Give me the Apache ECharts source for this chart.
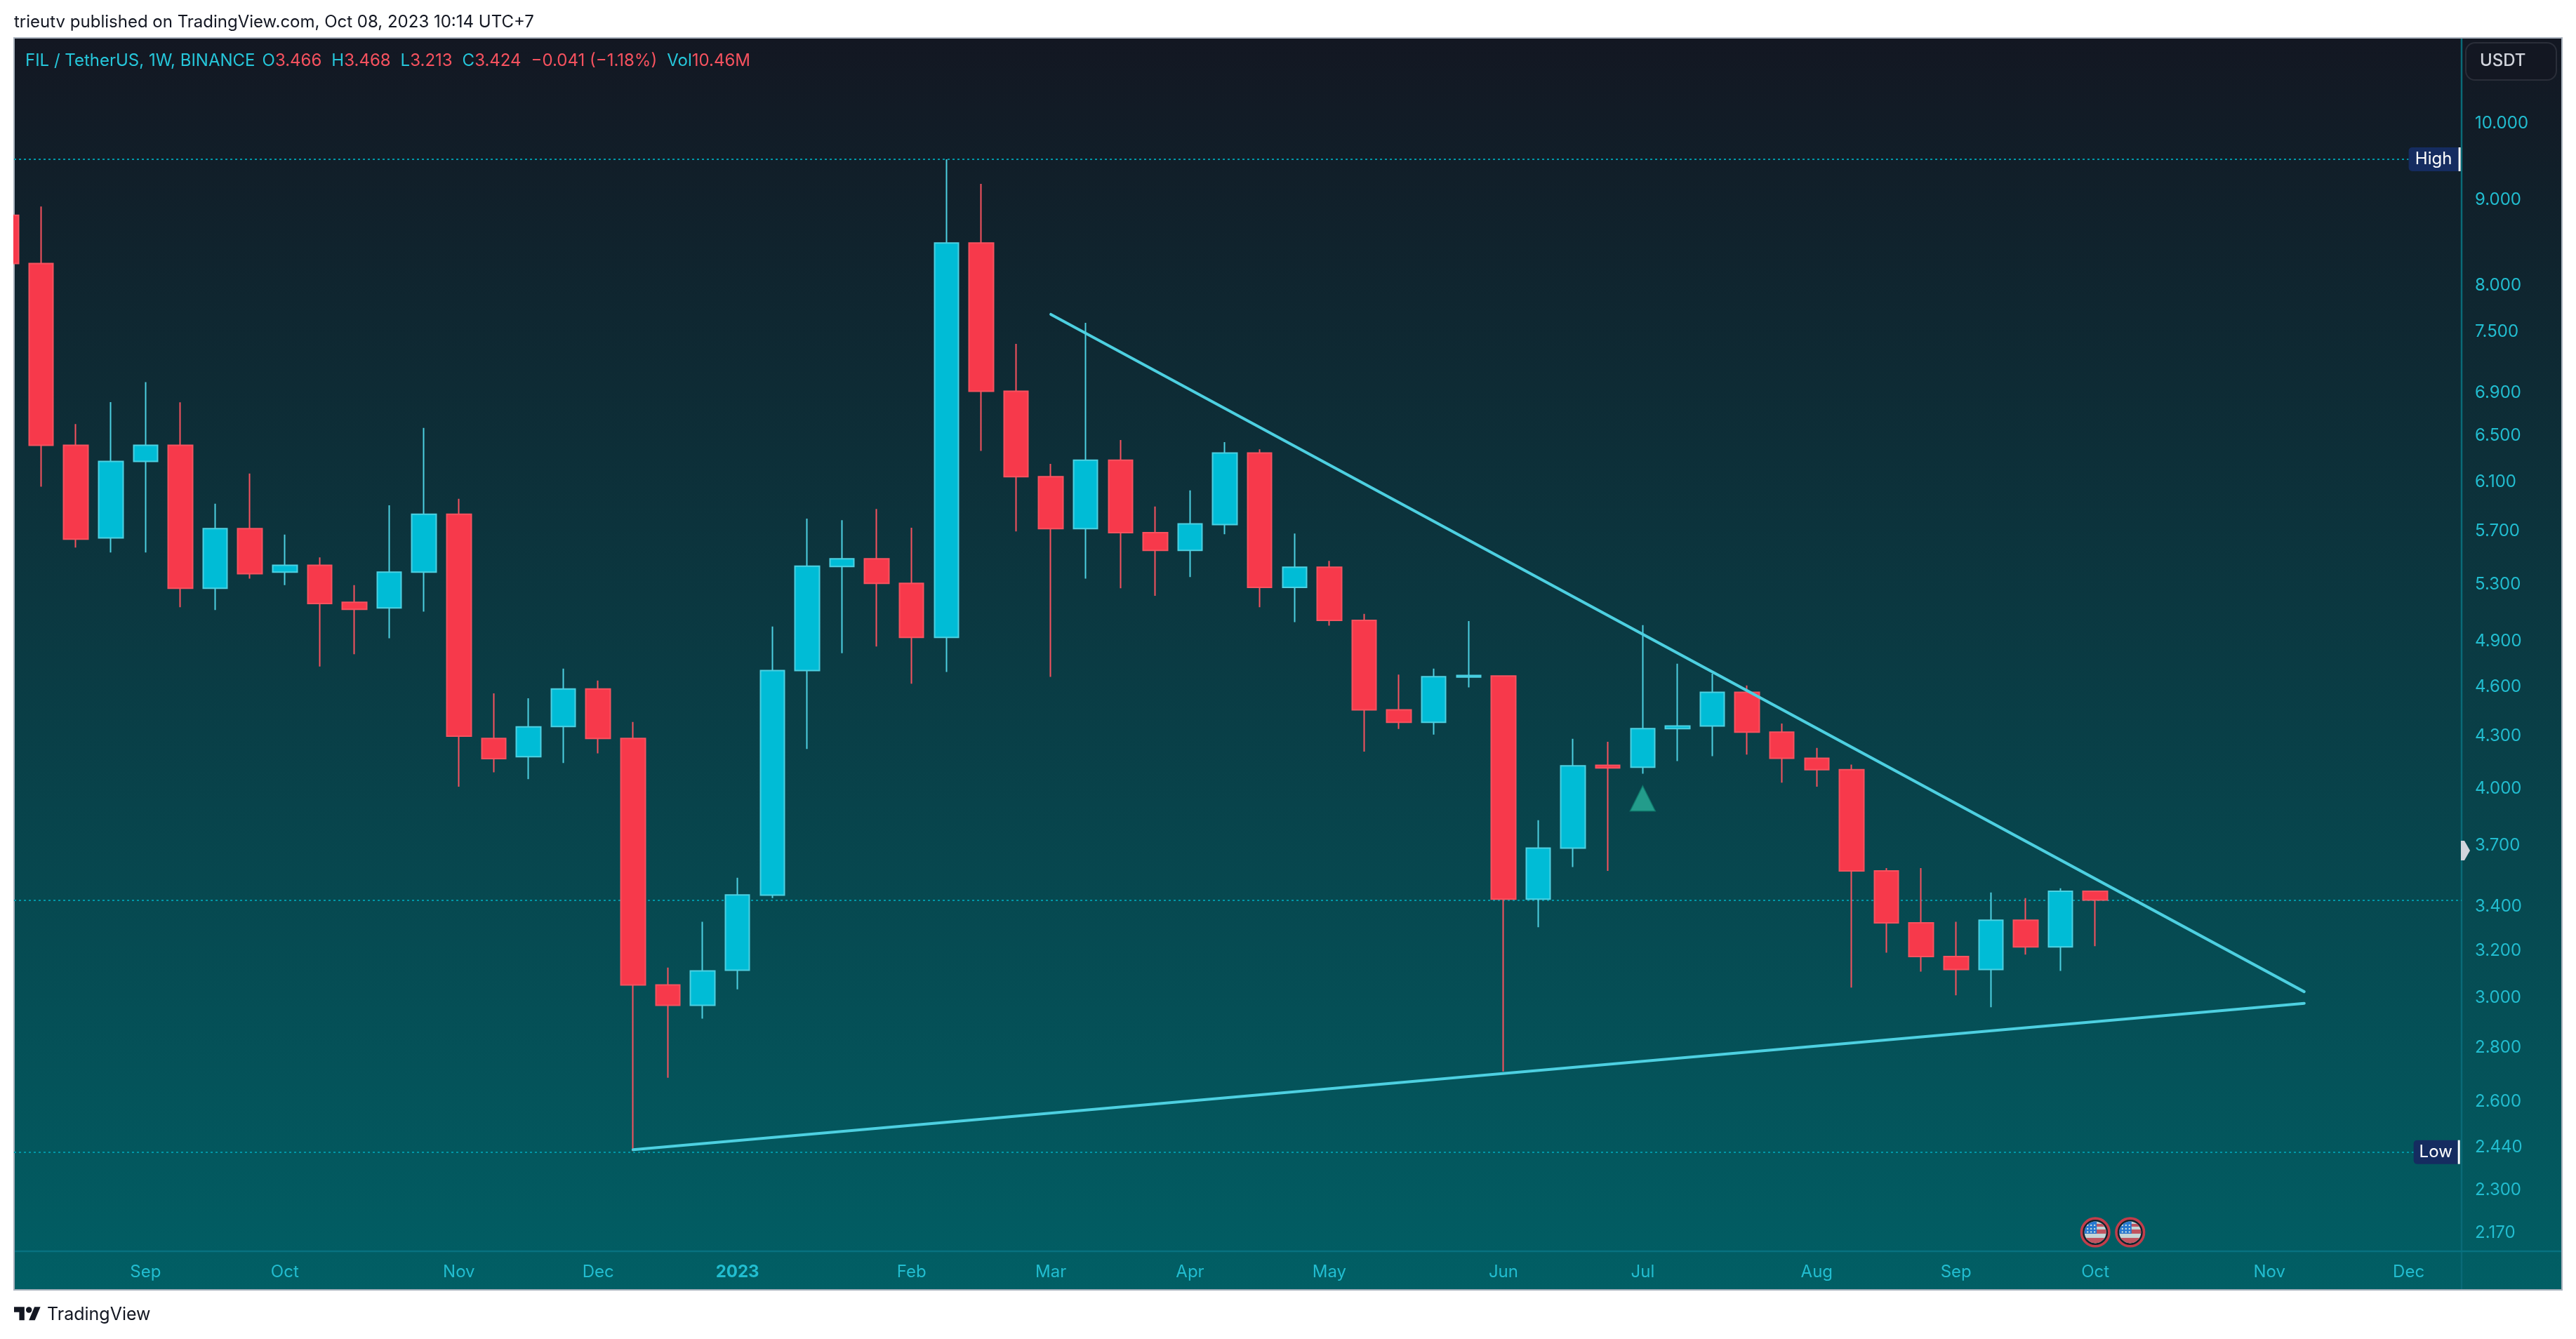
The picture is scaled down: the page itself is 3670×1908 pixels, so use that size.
<!DOCTYPE html>
<html>
<head>
<meta charset="utf-8">
<style>html,body{margin:0;padding:0;background:#fff}#c{width:3670px;height:1908px}</style>
<script src="https://cdn.jsdelivr.net/npm/echarts@6/dist/echarts.min.js"></script>
</head>
<body>
<div id="c"></div>
<script>
// Weekly bars, Monday open date
const weeks = [
'2022-08-08','2022-08-15','2022-08-22','2022-08-29','2022-09-05','2022-09-12','2022-09-19','2022-09-26','2022-10-03','2022-10-10',
'2022-10-17','2022-10-24','2022-10-31','2022-11-07','2022-11-14','2022-11-21','2022-11-28','2022-12-05','2022-12-12','2022-12-19',
'2022-12-26','2023-01-02','2023-01-09','2023-01-16','2023-01-23','2023-01-30','2023-02-06','2023-02-13','2023-02-20','2023-02-27',
'2023-03-06','2023-03-13','2023-03-20','2023-03-27','2023-04-03','2023-04-10','2023-04-17','2023-04-24','2023-05-01','2023-05-08',
'2023-05-15','2023-05-22','2023-05-29','2023-06-05','2023-06-12','2023-06-19','2023-06-26','2023-07-03','2023-07-10','2023-07-17',
'2023-07-24','2023-07-31','2023-08-07','2023-08-14','2023-08-21','2023-08-28','2023-09-04','2023-09-11','2023-09-18','2023-09-25',
'2023-10-02'];
const opens = [
8.791,8.225,6.404,5.638,6.264,6.404,5.260,5.710,5.378,5.429,
5.159,5.119,5.378,5.825,4.277,4.171,4.348,4.579,4.277,3.046,
2.962,3.109,3.447,4.697,5.420,5.478,5.296,4.916,8.461,6.899,
6.133,5.710,6.275,5.679,5.541,5.742,6.337,5.266,5.414,5.032,
4.449,4.373,4.655,4.661,3.428,3.678,4.122,4.111,4.336,4.351,
4.558,4.315,4.162,4.097,3.564,3.318,3.168,3.112,3.330,3.210,
3.466];
const closes = [
8.225,6.404,5.628,6.264,6.404,5.260,5.710,5.366,5.429,5.150,
5.110,5.378,5.825,4.291,4.160,4.346,4.579,4.277,3.046,2.962,
3.106,3.448,4.697,5.423,5.478,5.296,4.916,8.461,6.899,6.133,
5.710,6.275,5.679,5.541,5.748,6.337,5.266,5.414,5.032,4.449,
4.373,4.657,4.665,3.428,3.678,4.119,4.107,4.336,4.351,4.558,
4.315,4.162,4.097,3.564,3.318,3.168,3.112,3.330,3.210,3.466,
3.424];
const lows = [
8.225,6.049,5.563,5.526,5.526,5.125,5.105,5.330,5.283,4.723,
4.803,4.910,5.093,4.002,4.082,4.044,4.135,4.190,2.423,2.681,
2.908,3.028,3.433,4.216,4.810,4.854,4.612,4.687,6.355,5.688,
4.656,5.330,5.260,5.205,5.342,5.666,5.125,5.020,4.996,4.200,
4.333,4.300,4.589,2.704,3.298,3.583,3.564,4.075,4.146,4.174,
4.183,4.025,4.002,3.035,3.185,3.103,3.003,2.954,3.176,3.106,
3.213];
const highs = [
8.791,8.898,6.595,6.796,6.987,6.795,5.909,6.160,5.663,5.489,
5.283,5.896,6.559,5.949,4.551,4.521,4.709,4.632,4.375,3.120,
3.323,3.531,4.990,5.790,5.777,5.867,5.717,9.495,9.180,7.365,
6.243,7.581,6.451,5.887,6.019,6.433,6.369,5.672,5.462,5.077,
4.671,4.709,5.027,4.661,3.822,4.275,4.258,5.000,4.741,4.676,
4.601,4.366,4.222,4.126,3.578,3.578,3.323,3.460,3.433,3.480,
3.468];

// Price axis and time axis labels
const priceTicks = [10,9,8,7.5,6.9,6.5,6.1,5.7,5.3,4.9,4.6,4.3,4,3.7,3.4,3.2,3,2.8,2.6,2.44,2.3,2.17];
const timeTickDates = ['2022-09-05','2022-10-03','2022-11-07','2022-12-05','2023-01-02','2023-02-06','2023-03-06','2023-04-03','2023-05-01','2023-06-05','2023-07-03','2023-08-07','2023-09-04','2023-10-02','2023-11-06','2023-12-04'];
const timeTickNames = ['Sep','Oct','Nov','Dec','2023','Feb','Mar','Apr','May','Jun','Jul','Aug','Sep','Oct','Nov','Dec'];

// Levels and drawings
const highLevel = 9.495, lowLevel = 2.420, lastClose = 3.424;
const resistance = [['2023-03-06',7.670],['2023-11-13',3.018]];
const support = [['2022-12-12',2.428],['2023-11-13',2.970]];
const triangleNote = [['2023-07-03',3.938]];
const eventFlags = [['2023-10-02',2.167],['2023-10-09',2.167]];

const CYAN='#00bcd6', CYAN_LINE='#4dd0e1', RED='#f7394b', RED_LINE='#f7525f', TXT='#22bdd0', TXT_RED='#f7525f';
const FONT='Inter, "Noto Sans", sans-serif';
// position on the bar-number time scale (bar 0 = first week)
const W = d => (new Date(d+'T00:00:00Z').getTime()-new Date(weeks[0]+'T00:00:00Z').getTime())/(7*864e5);
const X_MIN = 0.2218, X_MAX = 70.52;
const flagSvg = `<svg xmlns="http://www.w3.org/2000/svg" viewBox="0 0 44 44"><defs><clipPath id="k"><circle cx="22" cy="22" r="15.5"/></clipPath></defs><circle cx="22" cy="22" r="19.8" fill="#131722" stroke="#f23645" stroke-width="3.6"/><g clip-path="url(#k)"><rect width="44" height="44" fill="#f5f5f5"/><rect x="4" y="10" width="36" height="4" fill="#f0525f"/><rect x="4" y="18" width="36" height="6" fill="#f0525f"/><rect x="4" y="30" width="36" height="9" fill="#f0525f"/><rect x="4" y="4" width="20" height="20" fill="#2f80ed"/><g fill="#fff"><circle cx="11" cy="12" r="1.2"/><circle cx="16" cy="12" r="1.2"/><circle cx="21" cy="12" r="1.2"/><circle cx="11" cy="17" r="1.2"/><circle cx="16" cy="17" r="1.2"/><circle cx="21" cy="17" r="1.2"/><circle cx="11" cy="21.5" r="1.2"/><circle cx="16" cy="21.5" r="1.2"/><circle cx="21" cy="21.5" r="1.2"/></g></g></svg>`;

const chart = echarts.init(document.getElementById('c'), null, {renderer:'canvas', width:3670, height:1908, devicePixelRatio:1});
const tickName = {};
timeTickDates.forEach((d,i)=>{tickName[W(d)]=timeTickNames[i];});

const badge = (txt,w)=>({
  show:true, position:'end', distance:0,
  formatter:'{a|'+txt+'}{b|}',
  rich:{
    a:{backgroundColor:'#152c60',color:'#ffffff',fontFamily:FONT,fontSize:24,height:34,lineHeight:34,width:w,align:'center',borderRadius:[5,0,0,5]},
    b:{backgroundColor:'#ffffff',width:3,height:34}
  }
});

chart.setOption({
  animation:false,
  backgroundColor:'#ffffff',
  title:[
    {text:'trieutv published on TradingView.com, Oct 08, 2023 10:14 UTC+7',left:20,top:20,padding:0,
     textStyle:{fontFamily:FONT,fontSize:24,fontWeight:400,color:'#131722'}},
    {text:'{c|FIL / TetherUS, 1W, BINANCE}{h|}{c|O}{r|3.466}{g|}{c|H}{r|3.468}{g|}{c|L}{r|3.213}{g|}{c|C}{r|3.424}{g|}{r|\u22120.041 (\u22121.18%)}{g|}{c|Vol}{r|10.46M}',
     left:36,top:75,padding:0,
     textStyle:{fontWeight:400,rich:{
       c:{color:'#26c6da',fontFamily:FONT,fontSize:24,fontWeight:400},
       r:{color:TXT_RED,fontFamily:FONT,fontSize:24,fontWeight:400},
       g:{width:14,height:10},
       h:{width:10,height:10}
     }}},
    {text:'TradingView',left:67,top:1861,padding:0,
     textStyle:{fontFamily:FONT,fontSize:25,fontWeight:400,color:'#131722'}}
  ],
  grid:{left:20,top:54,width:3487,height:1729,containLabel:false},
  xAxis:{
    type:'value', scale:true,
    min:X_MIN, max:X_MAX,
    axisLine:{show:false}, axisTick:{show:false}, splitLine:{show:false},
    axisLabel:{
      customValues:timeTickDates.map(W),
      hideOverlap:false, margin:18,
      color:TXT, fontFamily:FONT, fontSize:24,
      formatter:v=>{const n=tickName[v]; return n==='2023' ? '{b|2023}' : n;},
      rich:{b:{color:TXT,fontFamily:FONT,fontSize:24,fontWeight:700}}
    }
  },
  yAxis:{
    type:'log', logBase:10, min:2.111, max:11.223, position:'right',
    axisLine:{show:false}, axisTick:{show:false}, splitLine:{show:false},
    axisLabel:{
      customValues:priceTicks, inside:false, margin:19, hideOverlap:false,
      color:TXT, fontFamily:FONT, fontSize:24,
      formatter:v=>'{v|'+(+v).toFixed(3)+'}',
      rich:{v:{color:TXT,fontFamily:FONT,fontSize:24,padding:[4,0,0,0]}}
    }
  },
  graphic:[
    {type:'rect',silent:true,z:-20,shape:{x:20,y:54,width:3630,height:1784},
     style:{stroke:'#a9b2bd',lineWidth:2,fill:new echarts.graphic.LinearGradient(0,0,0,1,[
       {offset:0,color:'#131722'},{offset:1,color:'#015f65'}])}},
    {type:'line',silent:true,z:-10,shape:{x1:3507,y1:55,x2:3507,y2:1837},
     style:{stroke:'#0a6a77',lineWidth:2.5}},
    {type:'line',silent:true,z:-10,shape:{x1:21,y1:1783,x2:3649,y2:1783},
     style:{stroke:'#087280',lineWidth:2.5}},
    // page margin covers the part of the first bar that falls outside the pane
    {type:'rect',silent:true,z:50,shape:{x:0,y:54,width:19,height:1784},style:{fill:'#ffffff'}},
    {type:'rect',silent:true,z:5,shape:{x:3513,y:61,width:129,height:53,r:13},
     style:{fill:'#131722',stroke:'#2a2e39',lineWidth:2}},
    {type:'text',silent:true,z:6,style:{text:'USDT',x:3533,y:87,verticalAlign:'middle',font:'500 24px '+FONT,fill:'#d1d4dc'}},
    {type:'polygon',silent:true,z:6,shape:{points:[[3506,1198],[3511,1198],[3519,1212],[3511,1226],[3506,1226]]},style:{fill:'#d1d4dc'}},
    {type:'group',silent:true,x:20,y:1858,scaleX:1.06,scaleY:1.06,children:[
      {type:'polygon',shape:{points:[[0,4],[14,4],[14,22],[7,22],[7,11],[0,11]]},style:{fill:'#131722'}},
      {type:'polygon',shape:{points:[[20,22],[27.5,4],[35.5,4],[28,22]]},style:{fill:'#131722'}},
      {type:'circle',shape:{cx:20,cy:8,r:4},style:{fill:'#131722'}}
    ]}
  ],
  series:[
    {
      name:'FIL / TetherUS', type:'candlestick', z:3, clip:true,
      barWidth:35,
      itemStyle:{color:CYAN,color0:RED,borderColor:CYAN_LINE,borderColor0:RED_LINE,borderWidth:2},
      data:weeks.map((d,i)=>[W(d),opens[i],closes[i],lows[i],highs[i]]),
      markLine:{
        silent:true, symbol:'none', animation:false, z:2, precision:3,
        lineStyle:{color:'#0097a7',width:2,type:[3,4],opacity:1},
        label:{show:false},
        data:[
          [{coord:[X_MIN,highLevel],label:badge('High',71)},{coord:[W('2023-12-04'),highLevel]}],
          [{coord:[X_MIN,lowLevel],label:badge('Low',63)},{coord:[W('2023-12-05'),lowLevel]}],
          [{coord:[X_MIN,lastClose]},{coord:[X_MAX,lastClose]}]
        ]
      }
    },
    {name:'Resistance',type:'line',z:4,symbol:'none',data:resistance.map(p=>[W(p[0]),p[1]]),
     lineStyle:{color:CYAN_LINE,width:4,cap:'round'}},
    {name:'Support',type:'line',z:4,symbol:'none',data:support.map(p=>[W(p[0]),p[1]]),
     lineStyle:{color:CYAN_LINE,width:4,cap:'round'}},
    {name:'Idea',type:'scatter',z:4,symbol:'triangle',symbolSize:[36,36],data:triangleNote.map(p=>[W(p[0]),p[1]]),
     itemStyle:{color:'#2ab39b',borderColor:'#0e7a6c',borderWidth:1.5}},
    {name:'Events',type:'scatter',z:4,symbol:'image://data:image/svg+xml;charset=utf-8,'+encodeURIComponent(flagSvg),symbolSize:44,
     data:eventFlags.map(p=>[W(p[0]),p[1]])}
  ]
});
</script>
</body>
</html>
